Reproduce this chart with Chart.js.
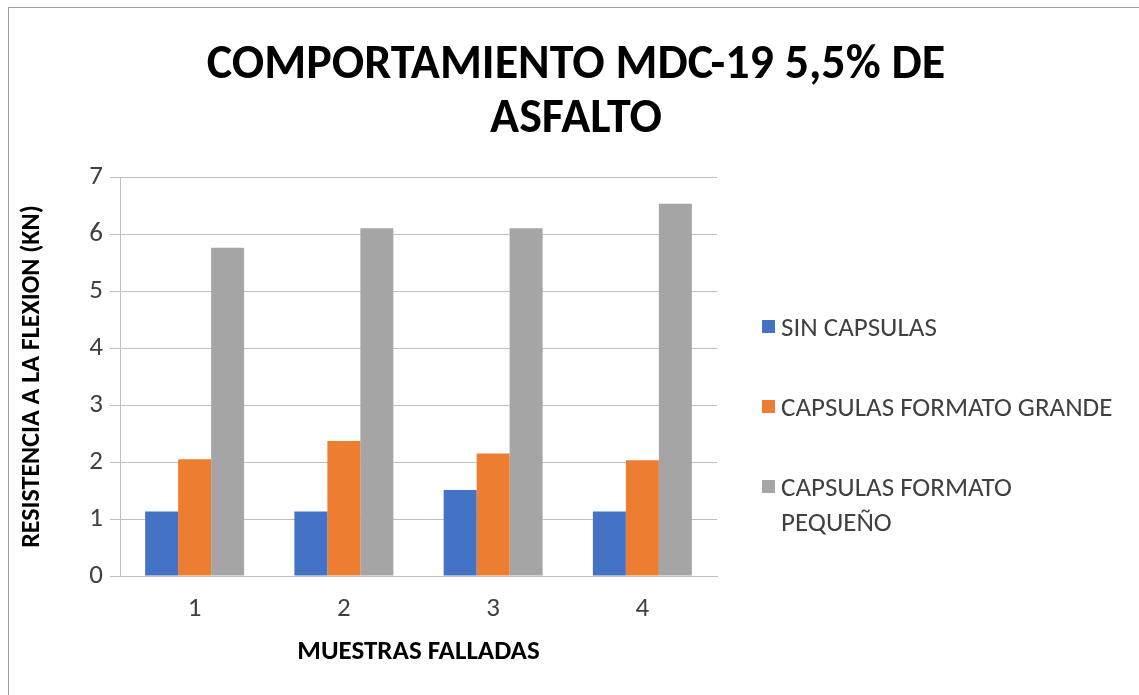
<!DOCTYPE html>
<html>
<head>
<meta charset="utf-8">
<script src="https://cdn.jsdelivr.net/npm/chart.js@4.4.1/dist/chart.umd.min.js"></script>
<style>
  html, body { margin: 0; padding: 0; background: #fff; }
  #wrap { position: relative; width: 1139px; height: 695px; overflow: hidden; }
  #frame { position: absolute; left: 8px; top: 7px; width: 1140px; height: 700px; border: 1px solid #a0a0a0; box-sizing: border-box; }
  canvas { position: absolute; left: 0; top: 0; }
  #title { position: absolute; left: 0; top: 35px; width: 1152px; text-align: center; font-family: Calibri, Carlito, Lato, sans-serif; font-weight: bold; font-size: 48px; line-height: 54px; color: #000; }
  #legend { position: absolute; left: 762px; top: 0; font-family: Calibri, Carlito, Lato, sans-serif; font-size: 27px; color: #404040; }
  .item { position: absolute; left: 0; white-space: nowrap; line-height: 35px; }
  .box { position: absolute; left: 0; top: 11px; width: 13px; height: 13px; }
  .lbl { position: absolute; left: 19px; top: 0; }
</style>
</head>
<body>
<div id="wrap">
  <div id="frame"></div>
  <canvas id="chart" width="1139" height="695"></canvas>
  <div id="title"></div>
  <div id="legend"></div>
</div>
<script>
const categories = ["1", "2", "3", "4"];
const seriesNames = ["SIN CAPSULAS", "CAPSULAS FORMATO GRANDE", "CAPSULAS FORMATO PEQUEÑO"];
const sinCapsulas = [1.13, 1.13, 1.51, 1.13];
const formatoGrande = [2.05, 2.37, 2.15, 2.03];
const formatoPequeno = [5.76, 6.1, 6.1, 6.53];
const colors = ["#4472C4", "#ED7D31", "#A5A5A5"];
const titleLines = ["COMPORTAMIENTO MDC-19 5,5% DE", "ASFALTO"];

const fontFam = 'Calibri, Carlito, Lato, sans-serif';

const ctx = document.getElementById("chart").getContext("2d");

new Chart(ctx, {
  type: "bar",
  data: {
    labels: categories,
    datasets: [
      { label: seriesNames[0], data: sinCapsulas, backgroundColor: colors[0] },
      { label: seriesNames[1], data: formatoGrande, backgroundColor: colors[1] },
      { label: seriesNames[2], data: formatoPequeno, backgroundColor: colors[2] }
    ]
  },
  options: {
    responsive: false,
    animation: false,
    layout: { padding: { left: 17, right: 422, top: 177, bottom: 27 } },
    datasets: { bar: { categoryPercentage: 0.663, barPercentage: 1.0 } },
    plugins: {
      legend: { display: false },
      tooltip: { enabled: false },
      title: { display: false }
    },
    scales: {
      x: {
        grid: { display: false },
        border: { display: true, color: "#bfbfbf", width: 1 },
        ticks: { color: "#404040", font: { family: fontFam, size: 27 }, padding: 9 },
        title: {
          display: true,
          text: "MUESTRAS FALLADAS",
          color: "#000",
          font: { family: fontFam, size: 27, weight: "bold" },
          padding: { top: 0, bottom: 0 }
        },
        afterFit: (s) => { s.height = 92; }
      },
      y: {
        min: 0,
        max: 7,
        ticks: { stepSize: 1, color: "#404040", font: { family: fontFam, size: 27 }, padding: 7 },
        grid: { color: "#bfbfbf", lineWidth: 1, tickLength: 10 },
        border: { display: true, color: "#bfbfbf", width: 1 },
        title: {
          display: true,
          text: "RESISTENCIA A LA FLEXION (KN)",
          color: "#000",
          font: { family: fontFam, size: 26, weight: "bold" },
          padding: { top: 0, bottom: 0 }
        },
        afterFit: (s) => { s.width = 103; }
      }
    }
  }
});

// title text
document.getElementById("title").innerHTML = titleLines.join("<br>");

// legend, built from the series names and colours
const legendTops = [309, 389, 469];
const legend = document.getElementById("legend");
seriesNames.forEach((name, i) => {
  const item = document.createElement("div");
  item.className = "item";
  item.style.top = legendTops[i] + "px";
  const box = document.createElement("div");
  box.className = "box";
  box.style.background = colors[i];
  const lbl = document.createElement("div");
  lbl.className = "lbl";
  lbl.innerHTML = i === 2 ? "CAPSULAS FORMATO<br>PEQUEÑO" : name;
  item.appendChild(box);
  item.appendChild(lbl);
  legend.appendChild(item);
});
</script>
</body>
</html>
